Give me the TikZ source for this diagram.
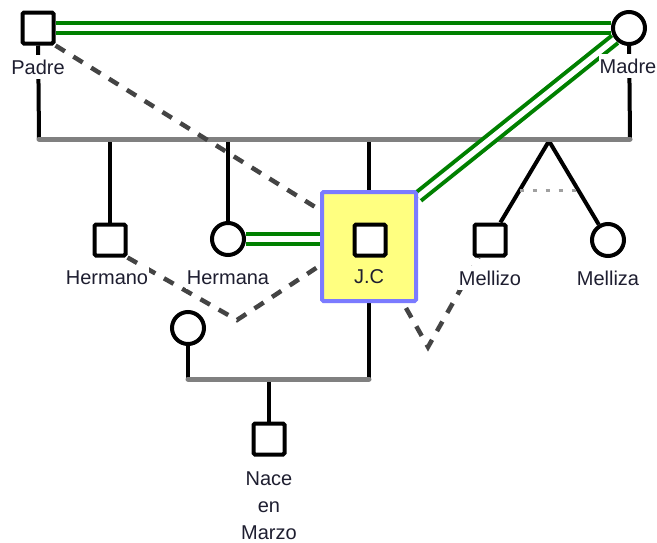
\documentclass[tikz,border=0pt]{standalone}
\usepackage{fontspec}
\setmainfont{Liberation Sans}
\usetikzlibrary{backgrounds,calc}
\definecolor{mgreen}{HTML}{008000}
\definecolor{sibgray}{HTML}{808080}
\definecolor{dashgray}{HTML}{444444}
\definecolor{twingray}{HTML}{A0A0A0}
\definecolor{boxfill}{HTML}{FFFF80}
\definecolor{boxline}{HTML}{7B7BFF}
\definecolor{txt}{HTML}{1E1E30}
\begin{document}
\begin{tikzpicture}[x=1pt,y=-1pt,
  male/.style={draw, line width=4pt, minimum size=31pt, inner sep=0pt, fill=white, rounded corners=1.5pt},
  female/.style={circle, draw, line width=4pt, minimum size=32pt, inner sep=0pt, fill=white},
  lbl/.style={anchor=base, font=\fontsize{20}{27.5}\selectfont, text=txt, inner xsep=1pt, inner ysep=5pt, fill=white},
  plainlbl/.style={lbl, fill=none, inner ysep=0.5pt},
  rel/.style={draw=black, line width=4pt},
  sibline/.style={draw=sibgray, line width=5pt, line cap=round},
  marriage/.style={draw=mgreen, line width=4pt, double=white, double distance=5.5pt},
  dsh/.style={draw=dashgray, line width=4.5pt, dash pattern=on 11pt off 10pt},
  twin/.style={draw=twingray, line width=3.5pt, dash pattern=on 4pt off 9pt}]
\useasboundingbox (0,0) rectangle (657,542);

% symbols
\node[male] (padre) at (38,28) {};
\node[female] (madre) at (629,28) {};
\node[male] (hermano) at (110,240) {};
\node[female] (hermana) at (228,239) {};
\node[draw=boxline, fill=boxfill, line width=4pt, minimum width=94pt, minimum height=109pt, inner sep=0pt, rounded corners=1.5pt] (jcbox) at (369,246.5) {};
\node[male] (jc) at (370,240) {};
\node[male] (mellizo) at (490,240) {};
\node[female] (melliza) at (608,240) {};
\node[female] (partner) at (188,328) {};
\node[male] (child) at (269,439) {};

% labels
\node[lbl] (padrelbl) at (38,74) {Padre};
\node[lbl] (madrelbl) at (628,73) {Madre};
\node[lbl] (hermanolbl) at (107,284) {Hermano};
\node[lbl] (hermanalbl) at (228,284) {Hermana};
\node[plainlbl] (jclbl) at (369,283) {J.C};
\node[lbl] (mellizolbl) at (490,285) {Mellizo};
\node[lbl] (mellizalbl) at (608,285) {Melliza};
\node[plainlbl] (nacelbl) at (269,485) {Nace};
\node[plainlbl] (enlbl) at (269,512) {en};
\node[plainlbl] (marzolbl) at (269,539) {Marzo};

\coordinate (sibL) at (39,139);
\coordinate (sibR) at (630,139);
\coordinate (apex) at (549,141);
\coordinate (famL) at (188,379);
\coordinate (famR) at (369,379);
\coordinate (v1) at (237,320);
\coordinate (v2) at (428,347);

\begin{scope}[on background layer]
  % parents
  \draw[marriage] (padre.east) -- (madre.west);
  \draw[rel] (padre) -- (sibL);
  \draw[rel] (madre) -- (sibR);
  % children drops
  \draw[rel] (hermano) -- (hermano |- sibL);
  \draw[rel] (hermana) -- (hermana |- sibL);
  \draw[rel] (jcbox.north) -- (jcbox.north |- sibL);
  \draw[rel, line join=round] (mellizo) -- (apex) -- (melliza);
  \draw[twin] ($(apex)!0.5!(mellizo)$) -- ($(apex)!0.5!(melliza)$);
  \draw[sibline] (sibL) -- (sibR);
  % green relations
  \draw[marriage] (hermana.east) -- (jcbox.west |- hermana.east);
  \draw[marriage] (madre) -- ([yshift=-7pt]jcbox.north east);
  % dashed relations
  \draw[dsh] (padre.south east) -- ([yshift=-20pt]jcbox.north west);
  \draw[dsh] (hermano.south east) -- (v1) -- ([yshift=-19pt]jcbox.west);
  \draw[dsh] ([xshift=-12pt,yshift=-5pt]jcbox.south east) -- (v2) -- ([xshift=6pt]mellizo.south west);
  % J.C family
  \draw[rel] (partner) -- (famL);
  \draw[rel] (jcbox.south) -- (famR);
  \draw[rel] (child) -- (child |- famL);
  \draw[sibline] (famL) -- (famR);
\end{scope}
\end{tikzpicture}
\end{document}
